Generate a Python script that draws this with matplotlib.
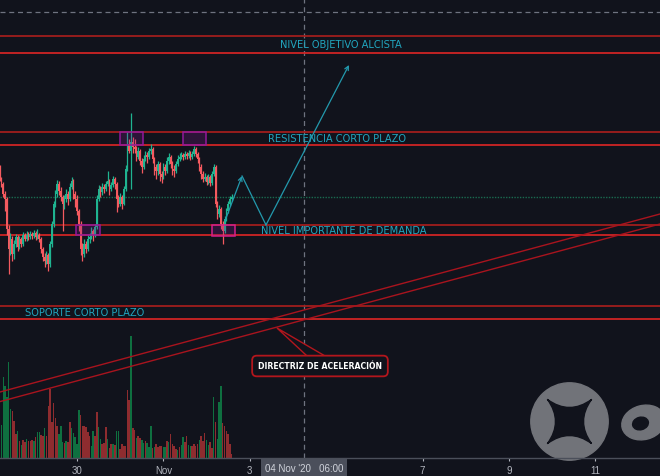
import matplotlib
matplotlib.use('Agg')
import matplotlib.pyplot as plt
import matplotlib.transforms as mtransforms
from matplotlib.patches import Rectangle, Ellipse, Circle, Polygon, PathPatch
from matplotlib.path import Path
import numpy as np

BG = '#11131c'

# ---------------- data (hours since 28 Oct 2020 00:00, hourly candles) ----------------
first_hour = 5
first_open = 13450
closes = [13400, 13375, 13325, 13300, 13150, 13050, 13100, 13025, 13075, 13110,
          13060, 13100, 13075, 13120, 13100, 13120, 13110, 13125, 13115, 13130,
          13110, 13120, 13100, 13050, 13010, 12990, 13020, 12975, 13075, 13175,
          13275, 13325, 13375, 13340, 13310, 13275, 13300, 13325, 13300, 13360,
          13390, 13325, 13300, 13240, 13175, 13050, 13025, 13075, 13050, 13100,
          13110, 13140, 13120, 13160, 13300, 13350, 13335, 13360, 13350, 13375,
          13390, 13350, 13370, 13400, 13375, 13300, 13275, 13310, 13275, 13350,
          13450, 13575, 13540, 13585, 13560, 13550, 13510, 13540, 13490, 13460,
          13500, 13520, 13510, 13540, 13550, 13500, 13460, 13440, 13475, 13425,
          13410, 13460, 13440, 13490, 13510, 13475, 13450, 13440, 13475, 13500,
          13510, 13520, 13510, 13525, 13515, 13530, 13510, 13525, 13550, 13525,
          13500, 13460, 13425, 13400, 13410, 13385, 13410, 13380, 13425, 13460,
          13275, 13225, 13250, 13175, 13140, 13200, 13240, 13275, 13300, 13310]
highs = [13470, 13410, 13385, 13340, 13310, 13170, 13130, 13115, 13095, 13125,
         13120, 13115, 13110, 13135, 13130, 13140, 13135, 13140, 13135, 13145,
         13140, 13150, 13130, 13110, 13060, 13030, 13040, 13030, 13090, 13190,
         13290, 13345, 13395, 13390, 13360, 13320, 13320, 13350, 13340, 13380,
         13410, 13400, 13340, 13320, 13250, 13190, 13080, 13100, 13090, 13120,
         13130, 13160, 13150, 13175, 13320, 13370, 13365, 13380, 13375, 13390,
         13440, 13400, 13385, 13415, 13410, 13385, 13320, 13330, 13320, 13365,
         13470, 13635, 13600, 13730, 13610, 13600, 13565, 13560, 13550, 13505,
         13520, 13540, 13535, 13555, 13575, 13560, 13510, 13475, 13490, 13485,
         13440, 13480, 13475, 13510, 13530, 13520, 13490, 13470, 13490, 13520,
         13530, 13535, 13530, 13540, 13535, 13545, 13540, 13540, 13565, 13560,
         13535, 13510, 13475, 13440, 13430, 13420, 13425, 13420, 13440, 13475,
         13470, 13290, 13270, 13260, 13190, 13215, 13255, 13290, 13315, 13325]
lows = [13390, 13360, 13310, 13240, 13120, 12925, 13020, 12990, 13000, 13060,
        13040, 13050, 13060, 13065, 13090, 13090, 13095, 13100, 13100, 13105,
        13095, 13100, 13085, 13030, 12990, 12960, 12975, 12940, 12960, 13060,
        13160, 13260, 13310, 13320, 13290, 13140, 13250, 13285, 13270, 13290,
        13350, 13300, 13260, 13220, 13140, 13020, 12990, 13010, 13030, 13040,
        13080, 13100, 13090, 13110, 13150, 13290, 13310, 13320, 13330, 13340,
        13365, 13320, 13340, 13360, 13350, 13235, 13260, 13265, 13250, 13270,
        13340, 13440, 13530, 13350, 13530, 13530, 13490, 13500, 13470, 13430,
        13450, 13490, 13480, 13500, 13525, 13480, 13420, 13400, 13420, 13390,
        13380, 13400, 13420, 13430, 13475, 13455, 13420, 13410, 13430, 13465,
        13490, 13500, 13495, 13500, 13500, 13505, 13495, 13500, 13515, 13510,
        13480, 13440, 13400, 13385, 13390, 13370, 13375, 13365, 13370, 13415,
        13260, 13200, 13210, 13150, 13075, 13130, 13190, 13230, 13265, 13290]
volumes = [220, 330, 810, 720, 610, 960, 490, 470, 370, 240,
           270, 170, 130, 180, 160, 190, 170, 170, 180, 170,
           210, 260, 260, 230, 220, 300, 220, 520, 690, 360,
           550, 400, 320, 240, 320, 160, 150, 170, 160, 360,
           300, 250, 210, 140, 480, 430, 320, 320, 310, 260,
           220, 120, 270, 220, 460, 310, 190, 140, 150, 310,
           190, 100, 140, 140, 130, 270, 270, 90, 140, 120,
           120, 680, 580, 1220, 300, 280, 200, 220, 200, 180,
           150, 170, 150, 110, 320, 100, 110, 140, 110, 120,
           120, 110, 110, 170, 160, 240, 140, 120, 90, 80,
           110, 130, 210, 160, 220, 130, 120, 120, 140, 120,
           140, 180, 220, 170, 250, 180, 130, 160, 100, 610,
           360, 190, 560, 720, 350, 320, 270, 240, 140, 40]
vol_dir = ("gggggggrrr" "grgrrgrrrg" "rggrrgrrrr" "rrrgggrgrr" "gggggrrrrr"
           "rggrrggrrr" "grrgrggrrr" "rrrgrrgrrg" "grgggrgrrr" "rggrgrrrrg"
           "rggrrggrrr" "rgrrrggrrg" "rgggrrrrrr")

# horizontal levels (price)
objetivo = [14030, 14115]
resistencia = [13570, 13635]
demanda = [13120, 13170]
soporte = [12700, 12765]

# acceleration trendlines: (hour, price) end points
tl_hours = [5.2, 371.9]
tl_upper = [12335, 13225]
tl_lower = [12287, 13175]

# projected path (hour, price)
proj_hours = [130.2, 139.7, 153.0, 199.1]
proj_prices = [13190, 13415, 13170, 13970]

# zones (hour start, hour end, price lo, price hi)
zones_h0 = [71.9, 106.9, 47.4, 123.0]
zones_h1 = [84.7, 119.7, 60.8, 135.8]
zones_p0 = [13570, 13570, 13120, 13115]
zones_p1 = [13635, 13635, 13170, 13172]

tick_hours = [48, 96, 144, 240, 288, 336]
tick_labels = ['30', 'Nov', '3', '7', '9', '11']
cursor_hour = 174
cursor_price = 14235
cursor_label = "04 Nov '20   06:00"

XLIM = (5.22, 371.9)
YLIM = (12005, 14300)

# ---------------- figure ----------------
W, H = 660, 477
fig = plt.figure(figsize=(W / 100, H / 100), dpi=100, facecolor=BG)
ax = fig.add_axes([0, 18 / H, 1, 459 / H])
ax.set_xlim(*XLIM)
ax.set_ylim(*YLIM)

vax = fig.add_axes([0, 18 / H, 1, 459 / H], sharex=ax)
vax.set_ylim(0, 4590)
vax.patch.set_visible(False)
vax.axis('off')
vax.set_zorder(0.5)
ax.set_zorder(1)
ax.patch.set_visible(False)

n = len(closes)
hrs = np.arange(first_hour, first_hour + n)
c = np.array(closes, float)
o = np.concatenate([[first_open], c[:-1]])
hi = np.array(highs, float)
lo = np.array(lows, float)
up = c >= o
UPC, DNC = '#1fb491', '#f45a5f'
colors = np.where(up, UPC, DNC)

# volume
vcol = ['#0f7040' if d == 'g' else '#8e2c2f' for d in vol_dir[:n]]
vax.bar(hrs, volumes, width=0.78, color=vcol, zorder=1, linewidth=0)

# candles
ax.vlines(hrs, lo, hi, colors=colors, lw=0.9, zorder=5)
body_lo = np.minimum(o, c)
body_h = np.maximum(np.abs(c - o), 5)
ax.bar(hrs, body_h, bottom=body_lo, width=0.9, color=colors, zorder=6, linewidth=0)

# levels
for pair in (objetivo, resistencia, demanda, soporte):
    ax.axhline(pair[1], color='#a11d1d', lw=1.3, zorder=3)
    ax.axhline(pair[0], color='#cf2424', lw=1.3, zorder=3)

# current price dotted line
ax.axhline(closes[-1], color='#1a6b50', lw=1.0, ls=(0, (1, 1)), zorder=2)

# crosshair
ax.axvline(cursor_hour, color='#6f7380', lw=0.9, ls=(0, (4, 3)), zorder=2)
ax.axhline(cursor_price, color='#6f7380', lw=0.9, ls=(0, (4, 3)), zorder=2)

# zones
for k in range(len(zones_h0)):
    ec = '#d4208a' if k == 3 else '#93199a'
    ax.add_patch(Rectangle((zones_h0[k], zones_p0[k]), zones_h1[k] - zones_h0[k],
                           zones_p1[k] - zones_p0[k], facecolor=(0.5, 0.1, 0.55, 0.25),
                           edgecolor=ec, lw=1.1, zorder=7))

# trendlines
ax.plot(tl_hours, tl_upper, color='#a8141e', lw=1.0, zorder=3)
ax.plot(tl_hours, tl_lower, color='#a8141e', lw=1.0, zorder=3)

# projection
TEAL = '#2399ad'
ax.annotate('', xy=(proj_hours[1], proj_prices[1]), xytext=(proj_hours[0], proj_prices[0]),
            arrowprops=dict(arrowstyle='->', color=TEAL, lw=0.9, mutation_scale=7,
                            shrinkA=0, shrinkB=0), zorder=8)
ax.plot(proj_hours[1:3], proj_prices[1:3], color=TEAL, lw=0.9, zorder=8)
ax.annotate('', xy=(proj_hours[3], proj_prices[3]), xytext=(proj_hours[2], proj_prices[2]),
            arrowprops=dict(arrowstyle='->', color=TEAL, lw=0.9, mutation_scale=7,
                            shrinkA=0, shrinkB=0), zorder=8)

# labels
LBL = '#21a6bf'
lfont = dict(family='DejaVu Sans', stretch='condensed', size=7.9, color=LBL,
             ha='center', va='center', zorder=9)
ax.text(194.4, np.mean(objetivo), 'NIVEL OBJETIVO ALCISTA', **lfont)
ax.text(192.4, np.mean(resistencia), 'RESISTENCIA CORTO PLAZO', **lfont)
ax.text(196.3, np.mean(demanda), 'NIVEL IMPORTANTE DE DEMANDA', **lfont)
ax.text(52.4, np.mean(soporte), 'SOPORTE CORTO PLAZO', **lfont)

# callout
RED = '#b3161c'
ax.add_patch(Polygon([(159.1, 12655), (175.8, 12515), (185.8, 12515)], closed=True,
                     facecolor=BG, edgecolor=RED, lw=1.0, zorder=9))
ax.text(183.0, 12465, 'DIRECTRIZ DE ACELERACIÓN', family='DejaVu Sans', weight='bold',
        size=5.6, color='white', ha='center', va='center', zorder=11,
        bbox=dict(boxstyle='round,pad=0.75,rounding_size=0.6', fc=BG, ec=RED, lw=1.3))

# x axis
ax.set_yticks([])
ax.set_xticks(tick_hours)
ax.set_xticklabels(tick_labels)
ax.tick_params(axis='x', colors='#b2b5be', labelsize=7, length=2, pad=3,
               labelcolor='#b2b5be')
for lab in ax.get_xticklabels():
    lab.set_family(['Liberation Sans', 'DejaVu Sans'])
for s in ('top', 'left', 'right'):
    ax.spines[s].set_visible(False)
ax.spines['bottom'].set_color('#4b4f5a')
ax.spines['bottom'].set_linewidth(1.0)

trans = mtransforms.blended_transform_factory(ax.transData, ax.transAxes)
ax.text(cursor_hour, -0.021, cursor_label, transform=trans, ha='center', va='center',
        size=7, color='#d1d4dc', family=['Liberation Sans', 'DejaVu Sans'], zorder=12,
        bbox=dict(boxstyle='square,pad=0.42', fc='#4b4f5b', ec='none'), clip_on=False)

# watermark logo (pixel overlay)
ov = fig.add_axes([0, 0, 1, 1])
ov.set_xlim(0, W)
ov.set_ylim(H, 0)
ov.axis('off')
ov.patch.set_visible(False)
ov.set_zorder(0.8)
GREY = '#717379'
ov.add_patch(Circle((569.5, 422.5), 38.7, color=GREY, zorder=1))
cx, cy, r, cc = 569.5, 422.5, 22.0, 6.0
verts = [(cx + r, cy + r), (cx, cy + cc), (cx - r, cy + r), (cx - cc, cy),
         (cx - r, cy - r), (cx, cy - cc), (cx + r, cy - r), (cx + cc, cy), (cx + r, cy + r)]
codes = [Path.MOVETO, Path.CURVE3, Path.CURVE3, Path.CURVE3, Path.CURVE3,
         Path.CURVE3, Path.CURVE3, Path.CURVE3, Path.CURVE3]
ov.add_patch(PathPatch(Path(verts, codes), facecolor=BG, edgecolor=BG, lw=1.0,
                       joinstyle='round', zorder=2))
ov.add_patch(Ellipse((643.5, 423.5), 44, 34, angle=-15, color=GREY, zorder=1))
ov.add_patch(Ellipse((640.5, 424.5), 16, 12.5, angle=-15, color=BG, zorder=2))

fig.savefig('out.png', dpi=100, facecolor=BG)
